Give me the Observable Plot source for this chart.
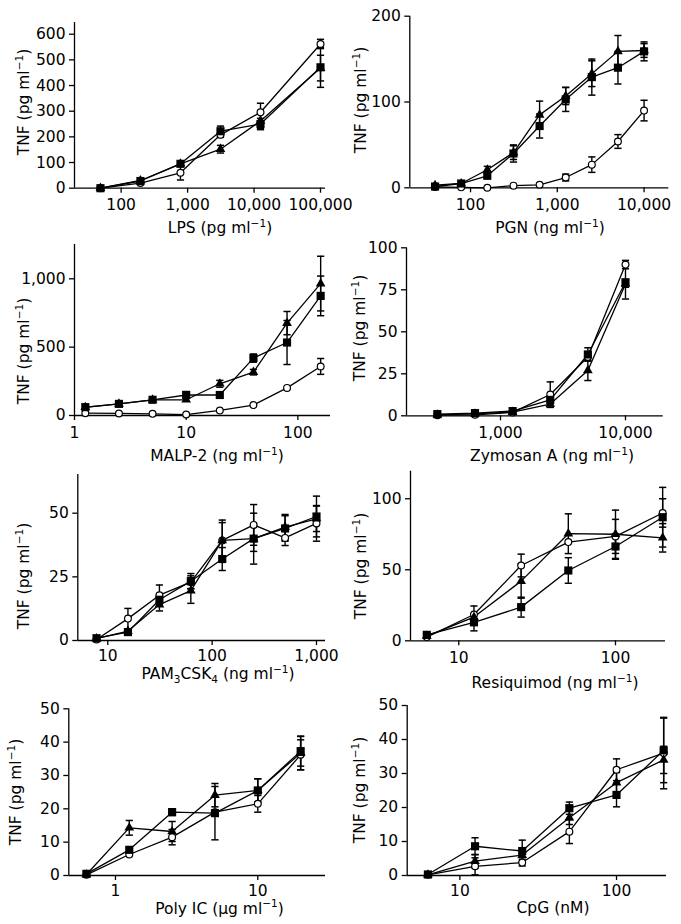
<!DOCTYPE html>
<html><head><meta charset="utf-8">
<script src="https://cdn.jsdelivr.net/npm/d3@7"></script>
<script src="https://cdn.jsdelivr.net/npm/@observablehq/plot@0.6"></script>
<style>
body{margin:0;background:#fff;}
#fig{position:relative;width:681px;height:924px;overflow:hidden;background:#fff;font-family:"DejaVu Sans",sans-serif;}
#fig svg{position:absolute;overflow:visible;}
</style></head><body><div id="fig"></div>
<script>
// ---------- DATA ----------
// LPS (pg/ml)
const lpsDose = [48.8, 195, 781, 3125, 12500, 100000];
const lpsOpen = [0, 20, 60, 208, 296, 562];
const lpsOpenErr = [0, 0, 28, 10, 35, 18];
const lpsTri = [0, 30, 95, 152, 262, 468];
const lpsTriErr = [0, 0, 0, 15, 30, 50];
const lpsSq = [0, 28, 95, 222, 250, 471];
const lpsSqErr = [0, 0, 0, 20, 22, 78];
const lpsXTicks = [100, 1000, 10000, 100000];
const lpsYTicks = [0, 100, 200, 300, 400, 500, 600];

// PGN (ng/ml)
const pgnDose = [39, 78, 156, 312.5, 625, 1250, 2500, 5000, 10000];
const pgnOpen = [1, 0.5, 0, 2.5, 3.5, 12, 27, 54, 90];
const pgnOpenErr = [0, 0, 0, 0, 0, 4, 9, 8, 12];
const pgnTri = [3, 5, 21, 41, 85, 107, 133, 159, 160];
const pgnTriErr = [0, 0, 4, 8, 16, 10, 15, 18.5, 8];
const pgnSq = [1.5, 5, 14, 40, 72, 103, 129, 140, 159];
const pgnSqErr = [0, 0, 3, 10, 14, 14, 21, 19, 11];
const pgnXTicks = [100, 1000, 10000];
const pgnYTicks = [0, 100, 200];

// MALP-2 (ng/ml)
const malpDose = [1.25, 2.5, 5, 10, 20, 40, 80, 160];
const malpOpen = [17, 15, 12, 7, 37, 76, 202, 359];
const malpOpenErr = [0, 0, 0, 0, 0, 0, 0, 58];
const malpTri = [60, 85, 115, 115, 232, 317, 676, 965];
const malpTriErr = [0, 0, 0, 0, 25, 20, 85, 200];
const malpSq = [61, 85, 115, 150, 150, 420, 534, 875];
const malpSqErr = [0, 0, 0, 25, 0, 30, 161, 145];
const malpXTicks = [1, 10, 100];
const malpYTicks = [0, 500, 1000];

// Zymosan A (ng/ml)
const zymDose = [312.5, 625, 1250, 2500, 5000, 10000];
const zymOpen = [0.4, 0.6, 2, 12.7, 35, 90];
const zymOpenErr = [0, 0, 0, 7.5, 0, 2.5];
const zymTri = [0.6, 1.2, 2.2, 7, 27, 78.5];
const zymTriErr = [0, 0, 0, 2, 6, 2];
const zymSq = [1, 1.6, 2.8, 9.5, 36.5, 79.5];
const zymSqErr = [0, 0, 0, 2, 4, 10];
const zymXTicks = [1000, 10000];
const zymYTicks = [0, 25, 50, 75, 100];

// PAM3CSK4 (ng/ml)
const pamDose = [7.8, 15.6, 31.25, 62.5, 125, 250, 500, 1000];
const pamOpen = [0.4, 8.6, 17.8, 22.9, 39.3, 45.4, 40.3, 46];
const pamOpenErr = [0, 4, 4, 2.5, 7, 8, 3, 7];
const pamTri = [0.7, 3.7, 14.1, 19.6, 39.3, 40, 44.5, 47.8];
const pamTriErr = [0, 0, 2.5, 5, 8, 5, 5, 5];
const pamSq = [0.9, 3.3, 16, 23.3, 32, 40, 44, 48.7];
const pamSqErr = [0, 0, 2, 3, 4.5, 10, 5, 8];
const pamXTicks = [10, 100, 1000];
const pamYTicks = [0, 25, 50];

// Resiquimod (ng/ml)
const resDose = [6.25, 12.5, 25, 50, 100, 200];
const resOpen = [2.6, 18.5, 53, 69.5, 73.5, 90];
const resOpenErr = [0, 6, 8, 0, 12, 10];
const resTri = [3.3, 16.7, 42, 75.4, 75, 72.5];
const resTriErr = [0, 0, 12, 14, 17, 10];
const resSq = [4.2, 13, 23.7, 49.5, 66.4, 87];
const resSqErr = [0, 6, 7, 9, 9, 21];
const resXTicks = [10, 100];
const resYTicks = [0, 50, 100];

// Poly IC (ug/ml)
const polyDose = [0.625, 1.25, 2.5, 5, 10, 20];
const polyOpen = [0.2, 6.3, 11.5, 19, 21.5, 36.2];
const polyOpenErr = [0, 0, 2.3, 0, 2.5, 4.5];
const polyTri = [0.3, 14.3, 13.2, 24.1, 25.5, 36.7];
const polyTriErr = [0, 2.2, 3, 3.5, 3.5, 5];
const polySq = [0.5, 7.7, 19, 18.7, 25.5, 37.3];
const polySqErr = [0, 0, 1, 8, 3.5, 4.5];
const polyXTicks = [1, 10];
const polyYTicks = [0, 10, 20, 30, 40, 50];

// CpG (nM)
const cpgDose = [6.25, 12.5, 25, 50, 100, 200];
const cpgOpen = [0.2, 2.7, 3.8, 12.9, 31.1, 36];
const cpgOpenErr = [0, 2.5, 1, 3.5, 3.2, 10.5];
const cpgTri = [0.2, 4.2, 6, 17, 27.3, 34];
const cpgTriErr = [0, 2, 0, 2, 3, 4];
const cpgSq = [0.3, 8.6, 7.2, 19.8, 23.7, 36.8];
const cpgSqErr = [0, 2.5, 3.2, 1.8, 3.5, 9.5];
const cpgXTicks = [10, 100];
const cpgYTicks = [0, 10, 20, 30, 40, 50];

const yLabel = "TNF (pg ml^{−1})";

// ---------- BUILD ----------
function table(dose, open, openErr, tri, triErr, sq, sqErr) {
  const rows = [];
  const add = (s, v, e) => dose.forEach((x, i) => rows.push({series: s, x, y: v[i], e: e[i]}));
  add("open", open, openErr);
  add("triangle", tri, triErr);
  add("square", sq, sqErr);
  return rows;
}

// layout: svg box [left, top, w, h]; frame [x0, x1, yTop, yBottom]; label anchor positions (page px)
const panels = [
  {rows: table(lpsDose, lpsOpen, lpsOpenErr, lpsTri, lpsTriErr, lpsSq, lpsSqErr), xTicks: lpsXTicks, yTicks: lpsYTicks,
   xLabel: "LPS (pg ml^{−1})", box: [0, 0, 340, 240], frame: [74, 325, 22, 187.7], xDomain: [19.86, 118900], yDomain: [0, 645.6], xl: [220, 233], yl: [29.3, 102], pad: 6},
  {rows: table(pgnDose, pgnOpen, pgnOpenErr, pgnTri, pgnTriErr, pgnSq, pgnSqErr), xTicks: pgnXTicks, yTicks: pgnYTicks,
   xLabel: "PGN (ng ml^{−1})", box: [340, 0, 341, 240], frame: [409.3, 668.3, 15.7, 187.3], xDomain: [19.95, 19280], yDomain: [0, 200], xl: [550, 233], yl: [366, 100], pad: 6},
  {rows: table(malpDose, malpOpen, malpOpenErr, malpTri, malpTriErr, malpSq, malpSqErr), xTicks: malpXTicks, yTicks: malpYTicks,
   xLabel: "MALP-2 (ng ml^{−1})", box: [0, 240, 340, 229], frame: [74, 330, 244, 415], xDomain: [1, 196], yDomain: [0, 1251], xl: [217, 461], yl: [29.3, 351], pad: 6},
  {rows: table(zymDose, zymOpen, zymOpenErr, zymTri, zymTriErr, zymSq, zymSqErr), xTicks: zymXTicks, yTicks: zymYTicks,
   xLabel: "Zymosan A (ng ml^{−1})", box: [340, 240, 341, 229], frame: [406, 662.7, 247.3, 415.3], xDomain: [177, 20030], yDomain: [0, 100], xl: [552, 461], yl: [365, 328], pad: 6},
  {rows: table(pamDose, pamOpen, pamOpenErr, pamTri, pamTriErr, pamSq, pamSqErr), xTicks: pamXTicks, yTicks: pamYTicks,
   xLabel: "PAM_{3}CSK_{4} (ng ml^{−1})", box: [0, 469, 340, 228], frame: [77.3, 325, 474, 640], xDomain: [5.16, 1220], yDomain: [0, 65.2], xl: [218, 679], yl: [29.3, 576], pad: 4},
  {rows: table(resDose, resOpen, resOpenErr, resTri, resTriErr, resSq, resSqErr), xTicks: resXTicks, yTicks: resYTicks,
   xLabel: "Resiquimod (ng ml^{−1})", box: [340, 469, 341, 228], frame: [410, 665, 470.7, 640.3], xDomain: [4.92, 208.5], yDomain: [0, 119.4], xl: [555, 688], yl: [366, 566], pad: 6},
  {rows: table(polyDose, polyOpen, polyOpenErr, polyTri, polyTriErr, polySq, polySqErr), xTicks: polyXTicks, yTicks: polyYTicks,
   xLabel: "Poly IC (μg ml^{−1})", box: [0, 697, 340, 227], frame: [68.3, 325, 708.3, 875], xDomain: [0.47, 29.9], yDomain: [0, 50], xl: [219.5, 913.5], yl: [20.7, 792], pad: 4},
  {rows: table(cpgDose, cpgOpen, cpgOpenErr, cpgTri, cpgTriErr, cpgSq, cpgSqErr), xTicks: cpgXTicks, yTicks: cpgYTicks,
   xLabel: "CpG (nM)", box: [340, 697, 341, 227], frame: [406.7, 666, 705, 875], xDomain: [4.61, 208.5], yDomain: [0, 50], xl: [553, 913], yl: [365, 790], pad: 4}
];

const FS = 15.5;
const fmt = d3.format(",");
const cap = {draw(ctx) { ctx.moveTo(-3.6, 0); ctx.lineTo(3.6, 0); }};

function addRich(sel, str, base) {
  const re = /\^\{([^}]*)\}|_\{([^}]*)\}|([^\^_]+)/g;
  let m, shift = 0;
  while ((m = re.exec(str))) {
    const ts = sel.append("tspan");
    if (m[1] != null) { const s = -0.4 * base; ts.text(m[1]).attr("font-size", base * 0.68).attr("dy", s - shift); shift = s; }
    else if (m[2] != null) { const s = 0.28 * base; ts.text(m[2]).attr("font-size", base * 0.68).attr("dy", s - shift); shift = s; }
    else { ts.text(m[3]).attr("dy", -shift); shift = 0; }
  }
}

const fig = document.getElementById("fig");
for (const p of panels) {
  const [L, T, W, H] = p.box;
  const [x0, x1, yTop, yBot] = p.frame;
  const rows = p.rows;
  const err = rows.filter(d => d.e > 0);
  const svg = Plot.plot({
    width: W, height: H,
    marginLeft: x0 - L, marginRight: L + W - x1,
    marginTop: yTop - T, marginBottom: T + H - yBot,
    style: {fontFamily: "DejaVu Sans, sans-serif", fontSize: FS + "px", color: "black", background: "transparent", overflow: "visible"},
    x: {type: "log", domain: p.xDomain},
    y: {domain: p.yDomain},
    marks: [
      Plot.ruleY([0], {stroke: "black", strokeWidth: 1.3}),
      Plot.ruleX([p.xDomain[0]], {stroke: "black", strokeWidth: 1.3}),
      Plot.axisX(p.xTicks, {tickSize: 5, tickPadding: p.pad, tickFormat: fmt, strokeWidth: 1.3, label: null}),
      Plot.axisY(p.yTicks, {tickSize: 5, tickPadding: 4, tickFormat: fmt, strokeWidth: 1.3, label: null}),
      Plot.line(rows, {x: "x", y: "y", z: "series", stroke: "black", strokeWidth: 1.3}),
      Plot.ruleX(err, {x: "x", y1: d => d.y - d.e, y2: d => d.y + d.e, stroke: "black", strokeWidth: 1.4}),
      Plot.dot(err, {x: "x", y: d => d.y + d.e, symbol: cap, fill: "none", stroke: "black", strokeWidth: 1.5}),
      Plot.dot(err, {x: "x", y: d => d.y - d.e, symbol: cap, fill: "none", stroke: "black", strokeWidth: 1.5}),
      Plot.dot(rows.filter(d => d.series === "open"), {x: "x", y: "y", r: 3.4, fill: "white", stroke: "black", strokeWidth: 1.2}),
      Plot.dot(rows.filter(d => d.series === "triangle"), {x: "x", y: "y", symbol: "triangle", r: 3.6, fill: "black", stroke: "none"}),
      Plot.dot(rows.filter(d => d.series === "square"), {x: "x", y: "y", symbol: "square", r: 4.6, fill: "black", stroke: "none"})
    ]
  });
  svg.style.left = L + "px";
  svg.style.top = T + "px";
  const s = d3.select(svg);
  const xt = s.append("text").attr("x", p.xl[0] - L).attr("y", p.xl[1] - T)
    .attr("text-anchor", "middle").attr("fill", "black").attr("font-size", FS);
  addRich(xt, p.xLabel, FS);
  const yt = s.append("text").attr("transform", `translate(${p.yl[0] - L},${p.yl[1] - T}) rotate(-90)`)
    .attr("text-anchor", "middle").attr("fill", "black").attr("font-size", FS);
  addRich(yt, yLabel, FS);
  fig.appendChild(svg);
}
</script>
</body></html>
